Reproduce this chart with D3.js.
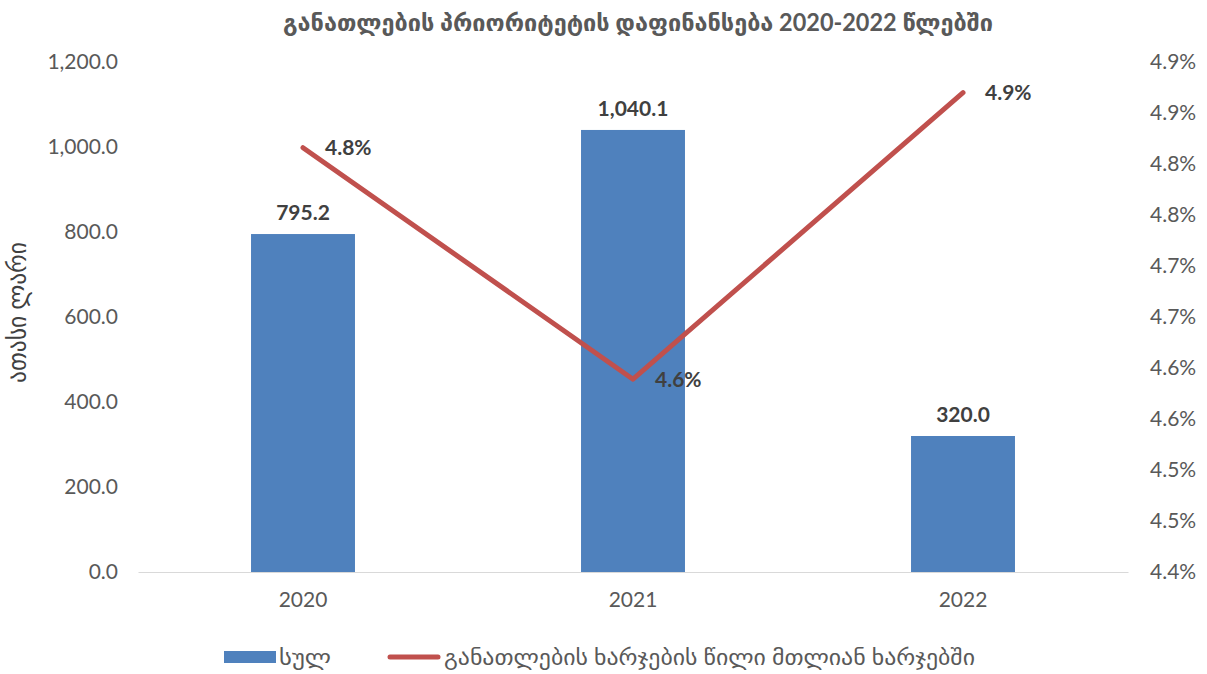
<!DOCTYPE html>
<html>
<head>
<meta charset="utf-8">
<script src="https://cdn.jsdelivr.net/npm/d3@7"></script>
<style>
  body { margin: 0; background: #fff; }
  text { font-family: Lato, "DejaVu Sans", sans-serif; }
</style>
</head>
<body>
<script>
(function(){

//chart data
var years = ["2020", "2021", "2022"];
var totals = [795.2, 1040.1, 320.0];          //ათასი ლარი
var shares = [4.816, 4.589, 4.870];            //% of total spending
var shareLabels = ["4.8%", "4.6%", "4.9%"];
var leftTicks = [0, 200, 400, 600, 800, 1000, 1200];
var rightTicks = [4.40, 4.45, 4.50, 4.55, 4.60, 4.65, 4.70, 4.75, 4.80, 4.85, 4.90];
var rightTickLabels = ["4.4%", "4.5%", "4.5%", "4.6%", "4.6%", "4.7%", "4.7%", "4.8%", "4.8%", "4.9%", "4.9%"];

var titleText = "განათლების პრიორიტეტის დაფინანსება 2020-2022 წლებში";
var yTitle = "ათასი ლარი";
var legendNames = ["სულ", "განათლების ხარჯების წილი მთლიან ხარჯებში"];

window.onload = draw();

function draw(){

    var width = 1207,
        height = 674;

    var plot = {left: 138, right: 1128, top: 62, bottom: 572};
    var tickFont = "21px";

    var svg = d3.select("body")
        .append("svg")
        .attr("width", width)
        .attr("height", height);

    //scales
    var x = d3.scaleBand()
        .domain(years)
        .range([plot.left, plot.right])
        .paddingInner(0.685)
        .paddingOuter(0.3425);

    var y = d3.scaleLinear()
        .domain([0, 1200])
        .range([plot.bottom, plot.top]);

    var y2 = d3.scaleLinear()
        .domain([4.4, 4.9])
        .range([plot.bottom, plot.top]);

    //title
    svg.append("text")
        .attr("x", 283)
        .attr("y", 31)
        .attr("textLength", 710)
        .attr("lengthAdjust", "spacingAndGlyphs")
        .style("font-size", "24px")
        .style("font-weight", "bold")
        .style("fill", "#595959")
        .text(titleText);

    //left axis
    var leftAxis = svg.append("g")
        .attr("transform", "translate(" + plot.left + ",0)")
        .call(d3.axisLeft(y).tickValues(leftTicks).tickSize(0).tickPadding(20)
            .tickFormat(d3.format(",.1f")));
    leftAxis.select(".domain").remove();
    leftAxis.selectAll("text")
        .style("font-size", tickFont)
        .style("fill", "#595959")
        .style("font-family", "Lato, 'DejaVu Sans', sans-serif");

    //right axis
    var rightAxis = svg.append("g")
        .attr("transform", "translate(" + plot.right + ",0)")
        .call(d3.axisRight(y2).tickValues(rightTicks).tickSize(0).tickPadding(22)
            .tickFormat(function(d, i){ return rightTickLabels[i]; }));
    rightAxis.select(".domain").remove();
    rightAxis.selectAll("text")
        .style("font-size", tickFont)
        .style("fill", "#595959")
        .style("font-family", "Lato, 'DejaVu Sans', sans-serif");

    //y axis title
    svg.append("text")
        .attr("transform", "translate(26,383) rotate(-90)")
        .attr("textLength", 141)
        .attr("lengthAdjust", "spacingAndGlyphs")
        .style("font-size", "26px")
        .style("fill", "#404040")
        .text(yTitle);

    //bars
    svg.selectAll(".bar")
        .data(totals)
        .enter()
        .append("rect")
        .attr("class", "bar")
        .attr("x", function(d, i){ return x(years[i]); })
        .attr("y", function(d){ return y(d); })
        .attr("width", x.bandwidth())
        .attr("height", function(d){ return y(0) - y(d); })
        .style("fill", "#4F81BD");

    //baseline
    var xAxis = svg.append("g")
        .attr("transform", "translate(0," + plot.bottom + ")")
        .call(d3.axisBottom(x).tickSize(0).tickPadding(20));
    xAxis.select(".domain").attr("stroke", "#d9d9d9").attr("stroke-width", 1);
    xAxis.selectAll("text")
        .style("font-size", tickFont)
        .style("fill", "#595959")
        .style("font-family", "Lato, 'DejaVu Sans', sans-serif");

    //bar labels
    svg.selectAll(".barLabel")
        .data(totals)
        .enter()
        .append("text")
        .attr("class", "barLabel")
        .attr("x", function(d, i){ return x(years[i]) + x.bandwidth() / 2; })
        .attr("y", function(d){ return y(d) - 14; })
        .attr("text-anchor", "middle")
        .style("font-size", "21px")
        .style("font-weight", "bold")
        .style("fill", "#404040")
        .text(function(d){ return d3.format(",.1f")(d); });

    //share line
    var line = d3.line()
        .x(function(d, i){ return x(years[i]) + x.bandwidth() / 2; })
        .y(function(d){ return y2(d); });

    svg.append("path")
        .datum(shares)
        .attr("d", line)
        .attr("fill", "none")
        .attr("stroke", "#C0504D")
        .attr("stroke-width", 5)
        .attr("stroke-linecap", "round")
        .attr("stroke-linejoin", "round");

    //line labels
    svg.selectAll(".lineLabel")
        .data(shares)
        .enter()
        .append("text")
        .attr("class", "lineLabel")
        .attr("x", function(d, i){ return x(years[i]) + x.bandwidth() / 2 + 22; })
        .attr("y", function(d){ return y2(d) + 2; })
        .attr("dominant-baseline", "middle")
        .style("font-size", "21px")
        .style("font-weight", "bold")
        .style("fill", "#404040")
        .text(function(d, i){ return shareLabels[i]; });

    //legend
    var legend = svg.append("g");
    legend.append("rect")
        .attr("x", 224)
        .attr("y", 651)
        .attr("width", 52)
        .attr("height", 12)
        .style("fill", "#4F81BD");
    legend.append("text")
        .attr("x", 279)
        .attr("y", 665)
        .attr("textLength", 52)
        .attr("lengthAdjust", "spacingAndGlyphs")
        .style("font-size", "22px")
        .style("fill", "#595959")
        .text(legendNames[0]);
    legend.append("line")
        .attr("x1", 390)
        .attr("x2", 438)
        .attr("y1", 657)
        .attr("y2", 657)
        .attr("stroke", "#C0504D")
        .attr("stroke-width", 5)
        .attr("stroke-linecap", "round");
    legend.append("text")
        .attr("x", 444)
        .attr("y", 665)
        .attr("textLength", 531)
        .attr("lengthAdjust", "spacingAndGlyphs")
        .style("font-size", "22px")
        .style("fill", "#595959")
        .text(legendNames[1]);
};

})();
</script>
</body>
</html>
